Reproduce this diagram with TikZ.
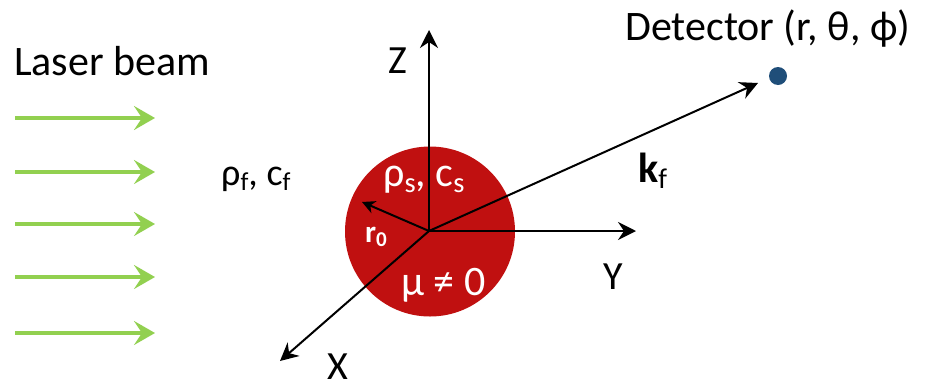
\documentclass[tikz,border=0pt]{standalone}
\usepackage{fontspec}
\setmainfont{Carlito}
\usetikzlibrary{arrows.meta}
\definecolor{sphred}{RGB}{192,16,16}
\definecolor{laser}{RGB}{146,208,80}
\definecolor{detblue}{RGB}{31,78,121}
\newcommand{\mysub}[1]{\raisebox{-0.15em}{\scalebox{0.68}{#1}}}
\begin{document}
\begin{tikzpicture}[x=1pt,y=-1pt,
  axis/.style={line width=2pt,-{Stealth[length=18pt,width=18pt,inset=6pt]}},
  beam/.style={laser,line width=3.5pt,-{Stealth[length=21pt,width=24pt,inset=8pt]}},
  lbl/.style={inner sep=0pt,font=\fontsize{42}{42}\selectfont},
  axlbl/.style={inner sep=0pt,font=\fontsize{40}{40}\selectfont},
  wlbl/.style={inner sep=0pt,text=white}]
\useasboundingbox (0,0) rectangle (931,386);
% sphere
\node[circle,fill=sphred,minimum size=170pt,inner sep=0pt] (sph) at (430,231.5) {};
\coordinate (O) at (429,231);
% axes
\coordinate (zend) at (429,30);
\coordinate (yend) at (636,231);
\coordinate (xend) at (280,361);
\coordinate (rend) at (362,202);
\coordinate (kend) at (758,83);
\draw[axis] (O) -- (zend);
\draw[axis] (O) -- (yend);
\draw[axis] (O) -- (xend);
\draw[axis] (O) -- (kend);
\draw[line width=2pt,-{Stealth[length=13pt,width=13pt,inset=4pt]}] (O) -- (rend);
% detector
\node[circle,fill=detblue,minimum size=18pt,inner sep=0pt] (det) at (778,76) {};
% labels
\node[lbl,anchor=base west] (laserlbl) at (14,75) {Laser beam};
\node[lbl,anchor=base west] (detlbl) at (625,40) {Detector (r, θ, ϕ)};
\node[axlbl,anchor=base west] (zlbl) at (388,73) {Z};
\node[axlbl,anchor=base west] (ylbl) at (603,289) {Y};
\node[axlbl,anchor=base west] (xlbl) at (327,379) {X};
\node[inner sep=0pt,anchor=base west,font=\fontsize{38}{38}\selectfont] (flbl) at (221,185) {ρ\mysub{f}, c\mysub{f}};
\node[inner sep=0pt,anchor=base west,font=\fontsize{42}{42}\selectfont\bfseries] (klbl) at (638,182) {k\mysub{\mdseries f}};
\node[wlbl,anchor=base west,font=\fontsize{42}{42}\selectfont] (slbl) at (383,186) {ρ\mysub{s}, c\mysub{s}};
\node[wlbl,anchor=base west,font=\fontsize{31}{31}\selectfont\bfseries] (rlbl) at (365,242) {r\mysub{0}};
\node[wlbl,anchor=base west,font=\fontsize{42}{42}\selectfont] (mulbl) at (401,295) {μ ≠ 0};
% laser beams
\foreach \yy [count=\i] in {118,172,224,277,333}{
  \coordinate (bs\i) at (15,\yy);
  \coordinate (be\i) at (155,\yy);
  \draw[beam] (bs\i) -- (be\i);
}
\end{tikzpicture}
\end{document}
